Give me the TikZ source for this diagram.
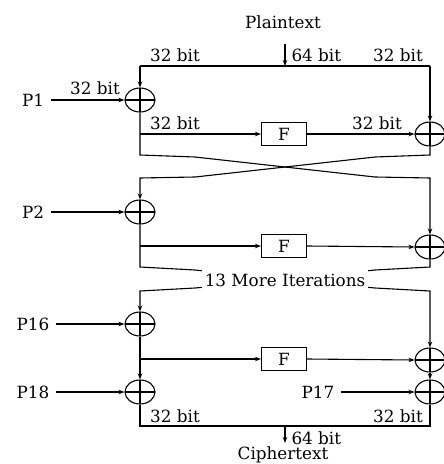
\documentclass[tikz,border=0pt]{standalone}
\usepackage{fontspec}
\setmainfont{DejaVu Serif}
\usetikzlibrary{shapes.geometric,arrows.meta}
\tikzset{
  xorop/.style={draw, ellipse, minimum width=30pt, minimum height=24pt, inner sep=0pt,
    path picture={\draw (path picture bounding box.north) -- (path picture bounding box.south)
      (path picture bounding box.west) -- (path picture bounding box.east);}},
  fbox/.style={draw, minimum width=45pt, minimum height=23pt, inner sep=0pt},
  lbl/.style={inner sep=0pt, font=\fontsize{16.8}{19}\selectfont},
  ar/.style={-{Stealth[length=6pt,width=4.5pt]}}
}
\begin{document}
\begin{tikzpicture}[x=1pt,y=-1pt, line width=1.1pt]
\useasboundingbox (0,0) rectangle (444,464);
% texts
\node[lbl] (pt) at (283,22) {Plaintext};
\node[lbl] (ct) at (283,455) {Ciphertext};
\node[lbl] (t64a) [anchor=west] at (291,55) {64 bit};
\node[lbl] (t32a) at (175,55) {32 bit};
\node[lbl] (t32b) at (398,55) {32 bit};
\node[lbl] (t32c) at (95,88) {32 bit};
\node[lbl] (t32d) at (175,123) {32 bit};
\node[lbl] (t32e) at (377,123) {32 bit};
\node[lbl] (t32f) at (175,416) {32 bit};
\node[lbl] (t32g) at (398,416) {32 bit};
\node[lbl] (t64b) [anchor=west] at (291,438) {64 bit};
% round 1
\node[lbl] (p1) at (33,100) {P1};
\node[xorop] (x1l) at (140,100) {};
\node[xorop] (x1r) at (430,134) {};
\node[fbox,lbl] (f1) at (284,134) {F};
\coordinate (top) at (285,66);
\coordinate (tl) at (140,66);
\coordinate (tr) at (430,66);
\coordinate (pin) at (285,44);
\draw[ar] (pin) -- (top);
\draw (tl) -- (tr);
\draw[ar] (tl) -- (x1l.north);
\draw[ar] (tr) -- (x1r.north);
\draw[ar] (p1.east) ++(6,0) coordinate (p1e) -- (x1l.west);
\coordinate (b1) at (140,134);
\draw[ar] (b1) -- (f1.west);
\draw[ar] (f1.east) -- (x1r.west);
% round 2
\node[lbl] (p2) at (33,212) {P2};
\node[xorop] (x2l) at (140,212) {};
\node[xorop] (x2r) at (430,247) {};
\node[fbox,lbl] (f2) at (284,246) {F};
\draw[ar] (x1l.south) -- (140,155) -- (195,157) -- (375,177) -- (430,178) -- (x2r.north);
\draw[ar] (x1r.south) -- (430,155) -- (375,157) -- (195,177) -- (140,178) -- (x2l.north);
\draw[ar] (p2.east) ++(6,0) -- (x2l.west);
\coordinate (b2) at (140,246);
\draw[ar] (b2) -- (f2.west);
\draw[ar] (f2.east) -- (x2r.west);
% round 16
\node[lbl] (p16) at (33,324) {P16};
\node[xorop] (x3l) at (140,324) {};
\node[xorop] (x3r) at (430,360) {};
\node[fbox,lbl] (f3) at (284,359) {F};
\draw[ar] (x2l.south) -- (140,267) -- (195,270) -- (375,288) -- (430,291) -- (x3r.north);
\draw[ar] (x2r.south) -- (430,267) -- (375,270) -- (195,288) -- (140,291) -- (x3l.north);
\node[lbl, fill=white, inner xsep=3pt, inner ysep=4pt] (more) at (285,280) {13 More Iterations};
\draw[ar] (p16.east) ++(6,0) -- (x3l.west);
\coordinate (b3) at (140,359);
\draw[ar] (b3) -- (f3.west);
\draw[ar] (f3.east) -- (x3r.west);
% final whitening
\node[lbl] (p18) at (33,392) {P18};
\node[lbl] (p17) at (318,392) {P17};
\node[xorop] (x4l) at (140,392) {};
\node[xorop] (x4r) at (430,392) {};
\draw[ar] (x3l.south) -- (x4l.north);
\draw[ar] (x3r.south) -- (x4r.north);
\draw[ar] (p18.east) ++(6,0) -- (x4l.west);
\draw[ar] (p17.east) ++(6,0) -- (x4r.west);
\draw (x4l.south) -- (140,426) -- (430,426) -- (x4r.south);
\coordinate (bot) at (285,426);
\coordinate (cout) at (285,443);
\draw[ar] (bot) -- (cout);
\end{tikzpicture}
\end{document}
